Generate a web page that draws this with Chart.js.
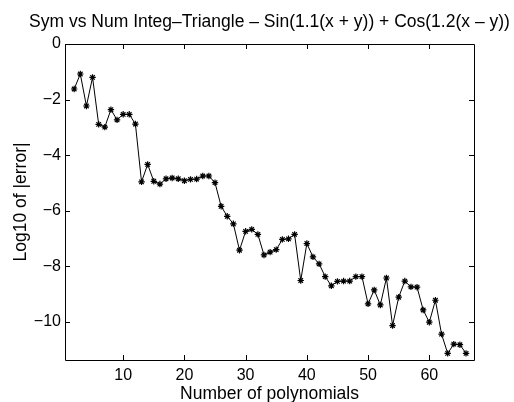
<!DOCTYPE html>
<html>
<head>
<meta charset="utf-8">
<script src="https://cdn.jsdelivr.net/npm/chart.js@4/dist/chart.umd.min.js"></script>
<style>
  html, body { margin: 0; padding: 0; background: #fff; }
  #wrap { width: 514px; height: 402px; }
</style>
</head>
<body>
<div id="wrap"><canvas id="c" width="514" height="402"></canvas></div>
<script>
"use strict";
// number of polynomials used
var numPoly = [];
for (let n = 2; n <= 66; n++) numPoly.push(n);
// log10 of the error between symbolic and numeric integration
var logErr = [
    -1.62, -1.08, -2.23, -1.20, -2.89, -2.99, -2.36, -2.73, -2.53, -2.53,
    -2.88, -4.96, -4.33, -4.94, -5.04, -4.85, -4.82, -4.85, -4.92, -4.87,
    -4.86, -4.75, -4.75, -4.99, -5.84, -6.20, -6.47, -7.42, -6.74, -6.67,
    -6.85, -7.59, -7.49, -7.40, -7.03, -7.01, -6.85, -8.51, -7.18, -7.66,
    -7.91, -8.37, -8.70, -8.54, -8.53, -8.53, -8.37, -8.37, -9.35, -8.85,
    -9.39, -8.42, -10.13, -9.11, -8.53, -8.74, -8.75, -9.57, -10.01, -9.22,
    -10.44, -11.13, -10.80, -10.82, -11.13
];
var xTicks = [10, 20, 30, 40, 50, 60];
var yTicks = [-10, -8, -6, -4, -2, 0];
var titleText = "Sym vs Num Integ\u2013Triangle \u2013 Sin(1.1(x + y)) + Cos(1.2(x \u2013 y))";
var xLabel = "Number of polynomials";
var yLabel = "Log10 of |error|";

const FONT = "'Liberation Sans', Arial, Helvetica, sans-serif";

// box around the axes, inward tick marks on all sides, title and axis labels
const matlabAxes = {
    id: 'matlabAxes',
    afterDraw(chart) {
        const ctx = chart.ctx;
        const a = chart.chartArea;
        const sx = chart.scales.x, sy = chart.scales.y;
        const tl = 5;
        ctx.save();
        ctx.strokeStyle = '#000';
        ctx.lineWidth = 1;
        ctx.beginPath();
        ctx.rect(Math.round(a.left) + 0.5, Math.round(a.top) + 0.5,
            Math.round(a.right - a.left), Math.round(a.bottom - a.top));
        for (const v of xTicks) {
            const px = Math.round(sx.getPixelForValue(v)) + 0.5;
            ctx.moveTo(px, a.bottom); ctx.lineTo(px, a.bottom - tl);
            ctx.moveTo(px, a.top); ctx.lineTo(px, a.top + tl);
        }
        for (const v of yTicks) {
            const py = Math.round(sy.getPixelForValue(v)) + 0.5;
            ctx.moveTo(a.left, py); ctx.lineTo(a.left + tl, py);
            ctx.moveTo(a.right, py); ctx.lineTo(a.right - tl, py);
        }
        ctx.stroke();

        ctx.fillStyle = '#000';
        ctx.textAlign = 'center';
        ctx.textBaseline = 'alphabetic';
        ctx.font = '17.5px ' + FONT;
        ctx.fillText(titleText, (a.left + a.right) / 2, 27);
        ctx.fillText(xLabel, (a.left + a.right) / 2, 398.5);
        ctx.translate(25.5, (a.top + a.bottom) / 2);
        ctx.rotate(-Math.PI / 2);
        ctx.fillText(yLabel, 0, 0);
        ctx.restore();
    }
};

const ctx = document.getElementById('c');
const chart = new Chart(ctx, {
    type: 'line',
    data: {
        datasets: [{
            data: numPoly.map((n, i) => ({ x: n, y: logErr[i] })),
            borderColor: '#000',
            borderWidth: 1,
            backgroundColor: '#000',
            pointStyle: 'star',
            pointRadius: 3.2,
            pointBorderWidth: 1.2,
            pointBorderColor: '#000',
            tension: 0
        }]
    },
    options: {
        responsive: false,
        animation: false,
        events: [],
        layout: { padding: { left: 0, top: 44, right: 40, bottom: 0 } },
        plugins: {
            legend: { display: false },
            title: { display: false },
            tooltip: { enabled: false }
        },
        scales: {
            x: {
                type: 'linear',
                min: 0.5,
                max: 67.3,
                grid: { display: false, drawTicks: false },
                border: { display: false },
                afterBuildTicks: s => { s.ticks = xTicks.map(v => ({ value: v })); },
                afterFit: s => { s.height = 42; },
                ticks: {
                    color: '#000',
                    padding: 6,
                    maxRotation: 0,
                    autoSkip: false,
                    font: { family: FONT, size: 16 }
                }
            },
            y: {
                min: -11.37,
                max: 0,
                grid: { display: false, drawTicks: false },
                border: { display: false },
                afterBuildTicks: s => { s.ticks = yTicks.map(v => ({ value: v })); },
                afterFit: s => { s.width = 65; },
                ticks: {
                    color: '#000',
                    padding: 4,
                    autoSkip: false,
                    font: { family: FONT, size: 16 },
                    callback: v => (v < 0 ? '\u2212' + Math.abs(v) : String(v))
                }
            }
        }
    },
    plugins: [matlabAxes]
});
</script>
</body>
</html>
